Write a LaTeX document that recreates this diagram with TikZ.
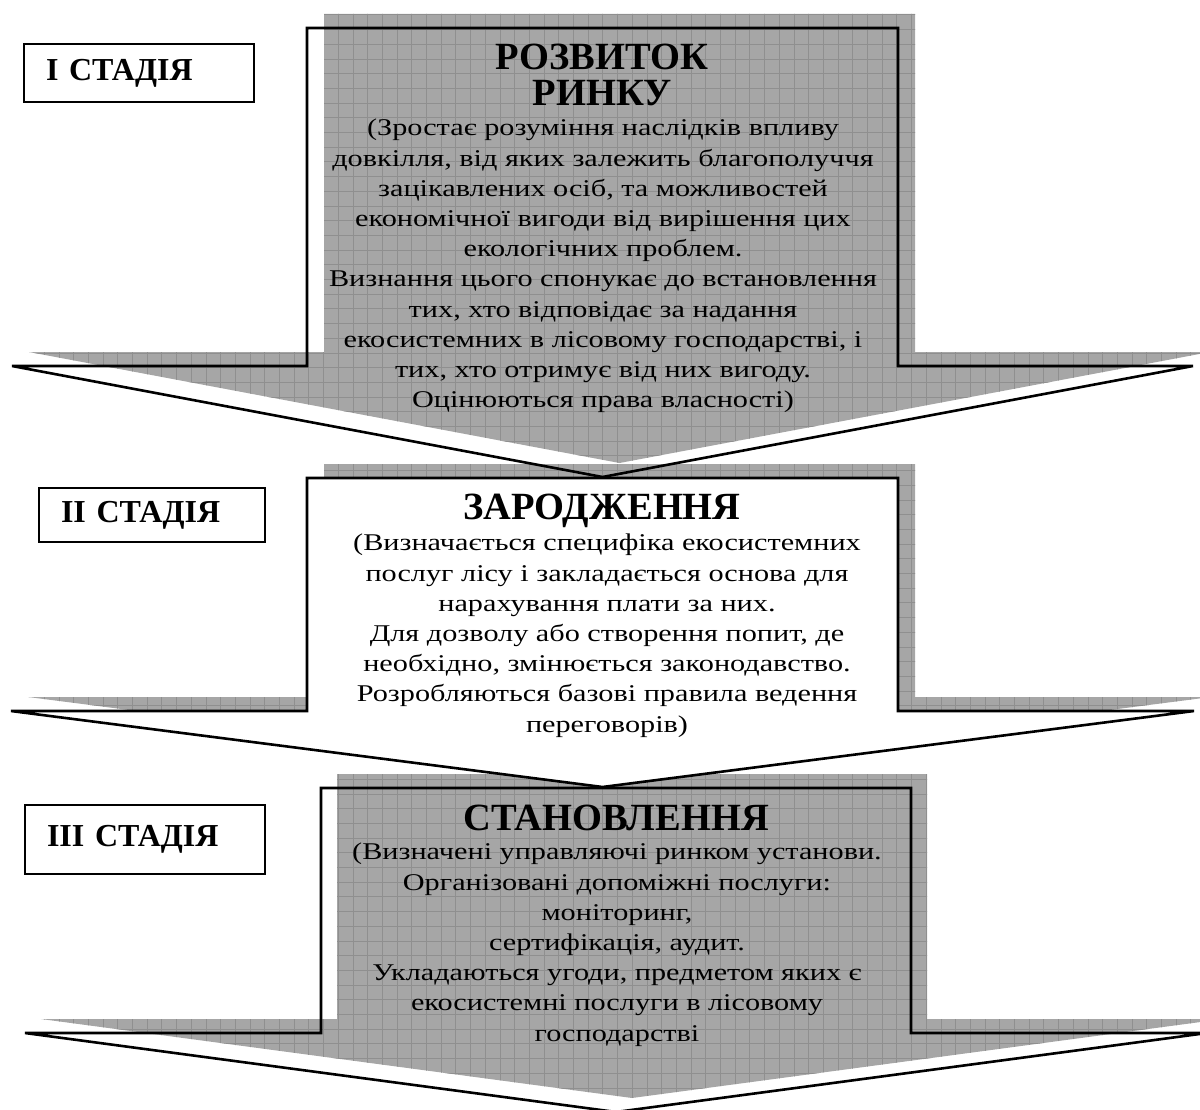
\documentclass[tikz,border=0pt]{standalone}
\usepackage{fontspec}
\setmainfont{Liberation Serif}[BoldFont={Liberation Serif Bold}]
\newfontfamily\bodyfont{Liberation Serif}[FakeStretch=1.26]
\usetikzlibrary{positioning}

\newcommand{\stagepath}[7]{(#1,#3) -- (#2,#3) -- (#2,#4) -- (#6,#4) -- ({(#1+#2)/2},#7) -- (#5,#4) -- (#1,#4) -- cycle}

\tikzset{
  gridfill/.style={fill=black!35},
  gridline/.style={draw=black!44,line width=0.45pt},
  outline/.style={draw=black,line width=2.6pt,line join=miter},
  stagebox/.style={draw,line width=2pt,anchor=north west,inner xsep=22pt,inner ysep=0pt,
                   align=left,font=\fontsize{32}{32}\selectfont\bfseries},
  titletext/.style={inner sep=0pt,align=center,font=\fontsize{38.5}{36}\selectfont\bfseries},
  bodytext/.style={inner sep=0pt,align=center,anchor=north,font=\bodyfont\fontsize{24}{30.2}\selectfont}
}

\begin{document}
\begin{tikzpicture}[x=1pt,y=-1pt]
\useasboundingbox (0,0) rectangle (1200,1110);
\clip (0,0) rectangle (1200,1110);

\begin{scope}
    \clip[shift={(17,-14)}] \stagepath{307}{898}{28}{366}{12}{1193}{477};
    \fill[gridfill] (0,0) rectangle (1230,1130);
    \draw[gridline] (0,0) grid[step=14.7pt] (1230,1130);
\end{scope}
\begin{scope}
    \clip[shift={(17,-14)}] \stagepath{307}{898}{478}{711}{11}{1194}{787};
    \fill[gridfill] (0,0) rectangle (1230,1130);
    \draw[gridline] (0,0) grid[step=14.7pt] (1230,1130);
\end{scope}
\begin{scope}
    \clip[shift={(16,-14)}] \stagepath{321}{911}{788}{1033}{25}{1207}{1112};
    \fill[gridfill] (0,0) rectangle (1230,1130);
    \draw[gridline] (0,0) grid[step=14.7pt] (1230,1130);
\end{scope}

\draw[outline] \stagepath{307}{898}{28}{366}{12}{1193}{477};
\draw[outline,fill=white] \stagepath{307}{898}{478}{711}{11}{1194}{787};
\draw[outline] \stagepath{321}{911}{788}{1033}{25}{1207}{1112};

\node[stagebox,text width=186pt,minimum height=58pt] (s1) at (23,43) {I СТАДІЯ};
\node[stagebox,text width=182pt,minimum height=54pt] (s2) at (38,487) {II СТАДІЯ};
\node[stagebox,text width=196pt,minimum height=69pt] (s3) at (24,804) {III СТАДІЯ};

\node[titletext] (t1) at (602,75) {РОЗВИТОК\\РИНКУ};
\node[bodytext] (b1) at (603,119) {(Зростає розуміння наслідків впливу\\
довкілля, від яких залежить благополуччя\\
зацікавлених осіб, та можливостей\\
економічної вигоди від вирішення цих\\
екологічних проблем.\\
Визнання цього спонукає до встановлення\\
тих, хто відповідає за надання\\
екосистемних в лісовому господарстві, і\\
тих, хто отримує від них вигоду.\\
Оцінюються права власності)};

\node[titletext] (t2) at (602,511) {ЗАРОДЖЕННЯ};
\node[bodytext] (b2) at (607,534) {(Визначається специфіка екосистемних\\
послуг лісу і закладається основа для\\
нарахування плати за них.\\
Для дозволу або створення попит, де\\
необхідно, змінюється законодавство.\\
Розробляються базові правила ведення\\
переговорів)};

\node[titletext] (t3) at (616,818) {СТАНОВЛЕННЯ};
\node[bodytext] (b3) at (617,843) {(Визначені управляючі ринком установи.\\
Організовані допоміжні послуги:\\
моніторинг,\\
сертифікація, аудит.\\
Укладаються угоди, предметом яких є\\
екосистемні послуги в лісовому\\
господарстві};
\end{tikzpicture}
\end{document}
